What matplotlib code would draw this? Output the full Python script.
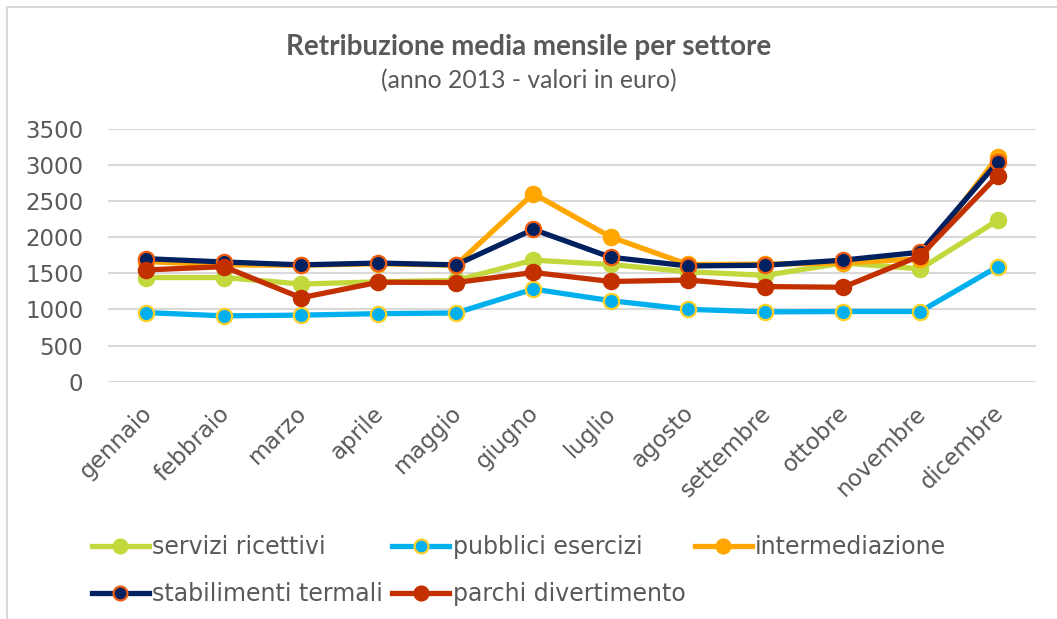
import matplotlib.pyplot as plt
from matplotlib.lines import Line2D
from matplotlib.transforms import ScaledTranslation

mesi = ['gennaio', 'febbraio', 'marzo', 'aprile', 'maggio', 'giugno',
        'luglio', 'agosto', 'settembre', 'ottobre', 'novembre', 'dicembre']

servizi_ricettivi = [1440, 1440, 1350, 1380, 1400, 1680, 1620, 1520, 1470, 1640, 1560, 2230]
pubblici_esercizi = [955, 910, 920, 940, 950, 1280, 1120, 1000, 965, 970, 970, 1590]
intermediazione = [1660, 1615, 1610, 1630, 1610, 2600, 2000, 1620, 1625, 1640, 1700, 3110]
stabilimenti_termali = [1700, 1655, 1615, 1640, 1615, 2105, 1720, 1600, 1610, 1680, 1790, 3035]
parchi_divertimento = [1545, 1590, 1160, 1375, 1370, 1510, 1385, 1405, 1315, 1305, 1740, 2850]

serie = [
    ('servizi ricettivi', servizi_ricettivi, '#c3d83c', '#c3d83c'),
    ('pubblici esercizi', pubblici_esercizi, '#00b0ee', '#ffd02a'),
    ('intermediazione', intermediazione, '#ffa600', '#ffa600'),
    ('stabilimenti termali', stabilimenti_termali, '#002060', '#ee5c10'),
    ('parchi divertimento', parchi_divertimento, '#c23000', '#c23000'),
]

grigio = '#595959'

fig = plt.figure(figsize=(10.57, 6.19), dpi=100)
ax = fig.add_axes([0.1018, 0.3834, 0.8787, 0.409])

x = list(range(len(mesi)))
handles = []
for nome, valori, col, bordo in serie:
    ax.plot(x, valori, color=col, lw=3.8, marker='o', ms=11,
            mfc=col, mec=bordo, mew=1.6, solid_joinstyle='round', zorder=3)
    handles.append(Line2D([], [], color=col, lw=3.8, marker='o', ms=10,
                          mfc=col, mec=bordo, mew=1.6, label=nome))

ax.set_xlim(-0.5, len(mesi) - 0.5)
ax.set_ylim(0, 3500)
ax.set_yticks(range(0, 3501, 500))
ax.yaxis.grid(True, color='#d9d9d9', lw=1.5)
ax.set_axisbelow(True)
for s in ax.spines.values():
    s.set_visible(False)

ax.set_xticks(x)
ax.set_xticklabels(mesi, rotation=45, ha='right', rotation_mode='anchor')
ax.tick_params(axis='both', length=0, labelsize=16.5, labelcolor=grigio)
ax.tick_params(axis='x', pad=10)
ax.tick_params(axis='y', pad=17.5)
# sposta le etichette dei mesi un po' in basso a sinistra
sposta = ScaledTranslation(-6 / 100, -6 / 100, fig.dpi_scale_trans)
for t in ax.get_xticklabels():
    t.set_transform(t.get_transform() + sposta)

fig.text(0.5, 0.924, 'Retribuzione media mensile per settore', ha='center', va='center',
         fontsize=20, fontweight='bold', color=grigio, family='Lato')
fig.text(0.5, 0.870, '(anno 2013 - valori in euro)', ha='center', va='center',
         fontsize=17.8, color=grigio, family='Lato')

# ordine per righe: la legenda di matplotlib riempie per colonne
ordine = [0, 3, 1, 4, 2]
fig.legend(handles=[handles[i] for i in ordine], loc='upper left',
           bbox_to_anchor=(0.087, 0.136), bbox_transform=fig.transFigure,
           ncol=3, frameon=False, fontsize=17, handlelength=2.4, handletextpad=0.15,
           columnspacing=0.4, labelspacing=0.98, borderpad=0, borderaxespad=0,
           labelcolor=grigio)

# cornice del grafico
fig.add_artist(Line2D([0.0066, 0.0066], [0.0, 0.989], color='#d9d9d9', lw=1.5))
fig.add_artist(Line2D([0.0066, 1.0], [0.989, 0.989], color='#d9d9d9', lw=1.5))

fig.savefig('out.png', dpi=100)
